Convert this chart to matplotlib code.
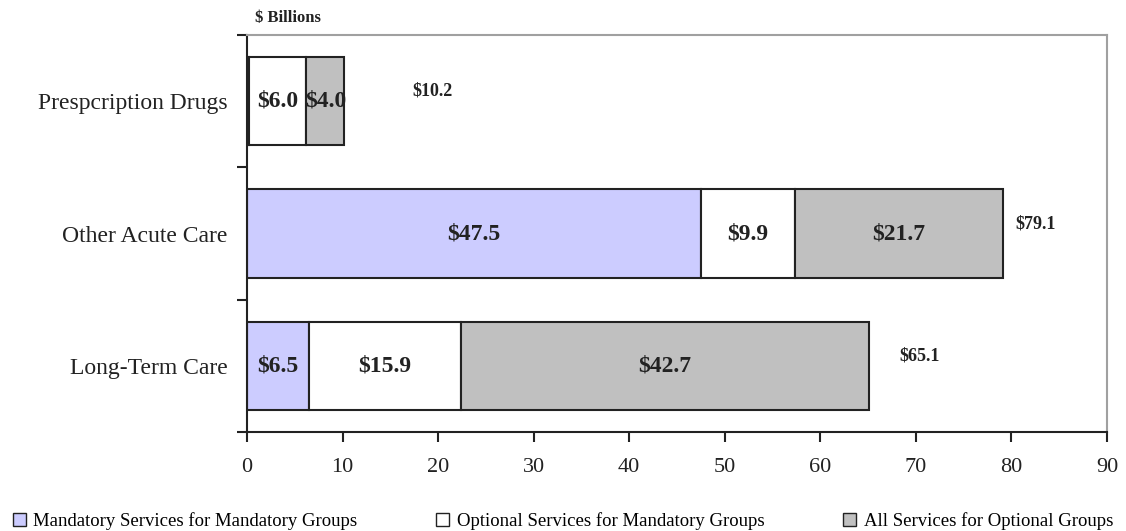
import matplotlib
matplotlib.use("Agg")
import matplotlib.pyplot as plt
from matplotlib.patches import Patch
import numpy as np

categories = ["Long-Term Care", "Other Acute Care", "Prespcription Drugs"]
series_names = ["Mandatory Services for Mandatory Groups",
                "Optional Services for Mandatory Groups",
                "All Services for Optional Groups"]
mandatory_mandatory = [6.5, 47.5, 0.2]
optional_mandatory = [15.9, 9.9, 6.0]
all_optional = [42.7, 21.7, 4.0]
totals = [65.1, 79.1, 10.2]
xticks = [0, 10, 20, 30, 40, 50, 60, 70, 80, 90]

colors = ["#CCCCFF", "#FFFFFF", "#C0C0C0"]
total_offsets_pt = [22, 9, 49]  # horizontal offsets of total labels (points)

serif = ["Liberation Serif", "DejaVu Serif"]
plt.rcParams["font.family"] = serif

fig = plt.figure(figsize=(11.26, 5.31), dpi=100)
ax = fig.add_axes([247/1126, 1-432/531, (1107-247)/1126, (432-35)/531])

y = np.arange(len(categories))
series = [mandatory_mandatory, optional_mandatory, all_optional]
left = np.zeros(len(categories))
for vals, c in zip(series, colors):
    vals = np.array(vals)
    ax.barh(y, vals, left=left, height=0.67, color=c, edgecolor="#222222", linewidth=1.5, zorder=2)
    for yi, v, l in zip(y, vals, left):
        if v >= 1:
            ax.text(l + v/2, yi, f"${v:.1f}", ha="center", va="center",
                    fontsize=17, fontweight="bold", color="#222222", zorder=3)
    left = left + vals

for yi, t, off in zip(y, totals, total_offsets_pt):
    ax.annotate(f"${t:.1f}", xy=(t, yi), xytext=(off, 7), textcoords="offset points",
                ha="left", va="center", fontsize=13, fontweight="bold", color="#222222")

ax.set_xlim(0, 90)
ax.set_ylim(-0.5, 2.5)
ax.set_xticks(xticks)
ax.set_xticklabels([str(v) for v in xticks], fontsize=16, color="#222222")
ax.tick_params(axis="x", direction="out", length=7, width=1.5, pad=12, color="#222222")

ax.set_yticks(y)
ax.set_yticklabels(categories, fontsize=17, color="#222222")
ax.tick_params(axis="y", which="major", length=0, pad=14)
ax.set_yticks([-0.5, 0.5, 1.5, 2.5], minor=True)
ax.tick_params(axis="y", which="minor", direction="out", length=7, width=1.5, color="#222222")

for s in ["left", "bottom"]:
    ax.spines[s].set_color("#222222")
    ax.spines[s].set_linewidth(1.5)
for s in ["top", "right"]:
    ax.spines[s].set_color("#A0A0A0")
    ax.spines[s].set_linewidth(1.5)

fig.text(255/1126, 1-18/531, "$ Billions", fontsize=12, fontweight="bold", ha="left", va="center", color="#222222")

handles = [Patch(facecolor=c, edgecolor="#222222", linewidth=1) for c in colors]
fig.legend(handles, series_names, loc="center", bbox_to_anchor=(0.5, 1-521/531), ncol=3,
           frameon=False, fontsize=13.5, handlelength=0.7, handleheight=0.7, handletextpad=0.4,
           columnspacing=4.2, borderpad=0)

fig.savefig("out.png", dpi=100)
